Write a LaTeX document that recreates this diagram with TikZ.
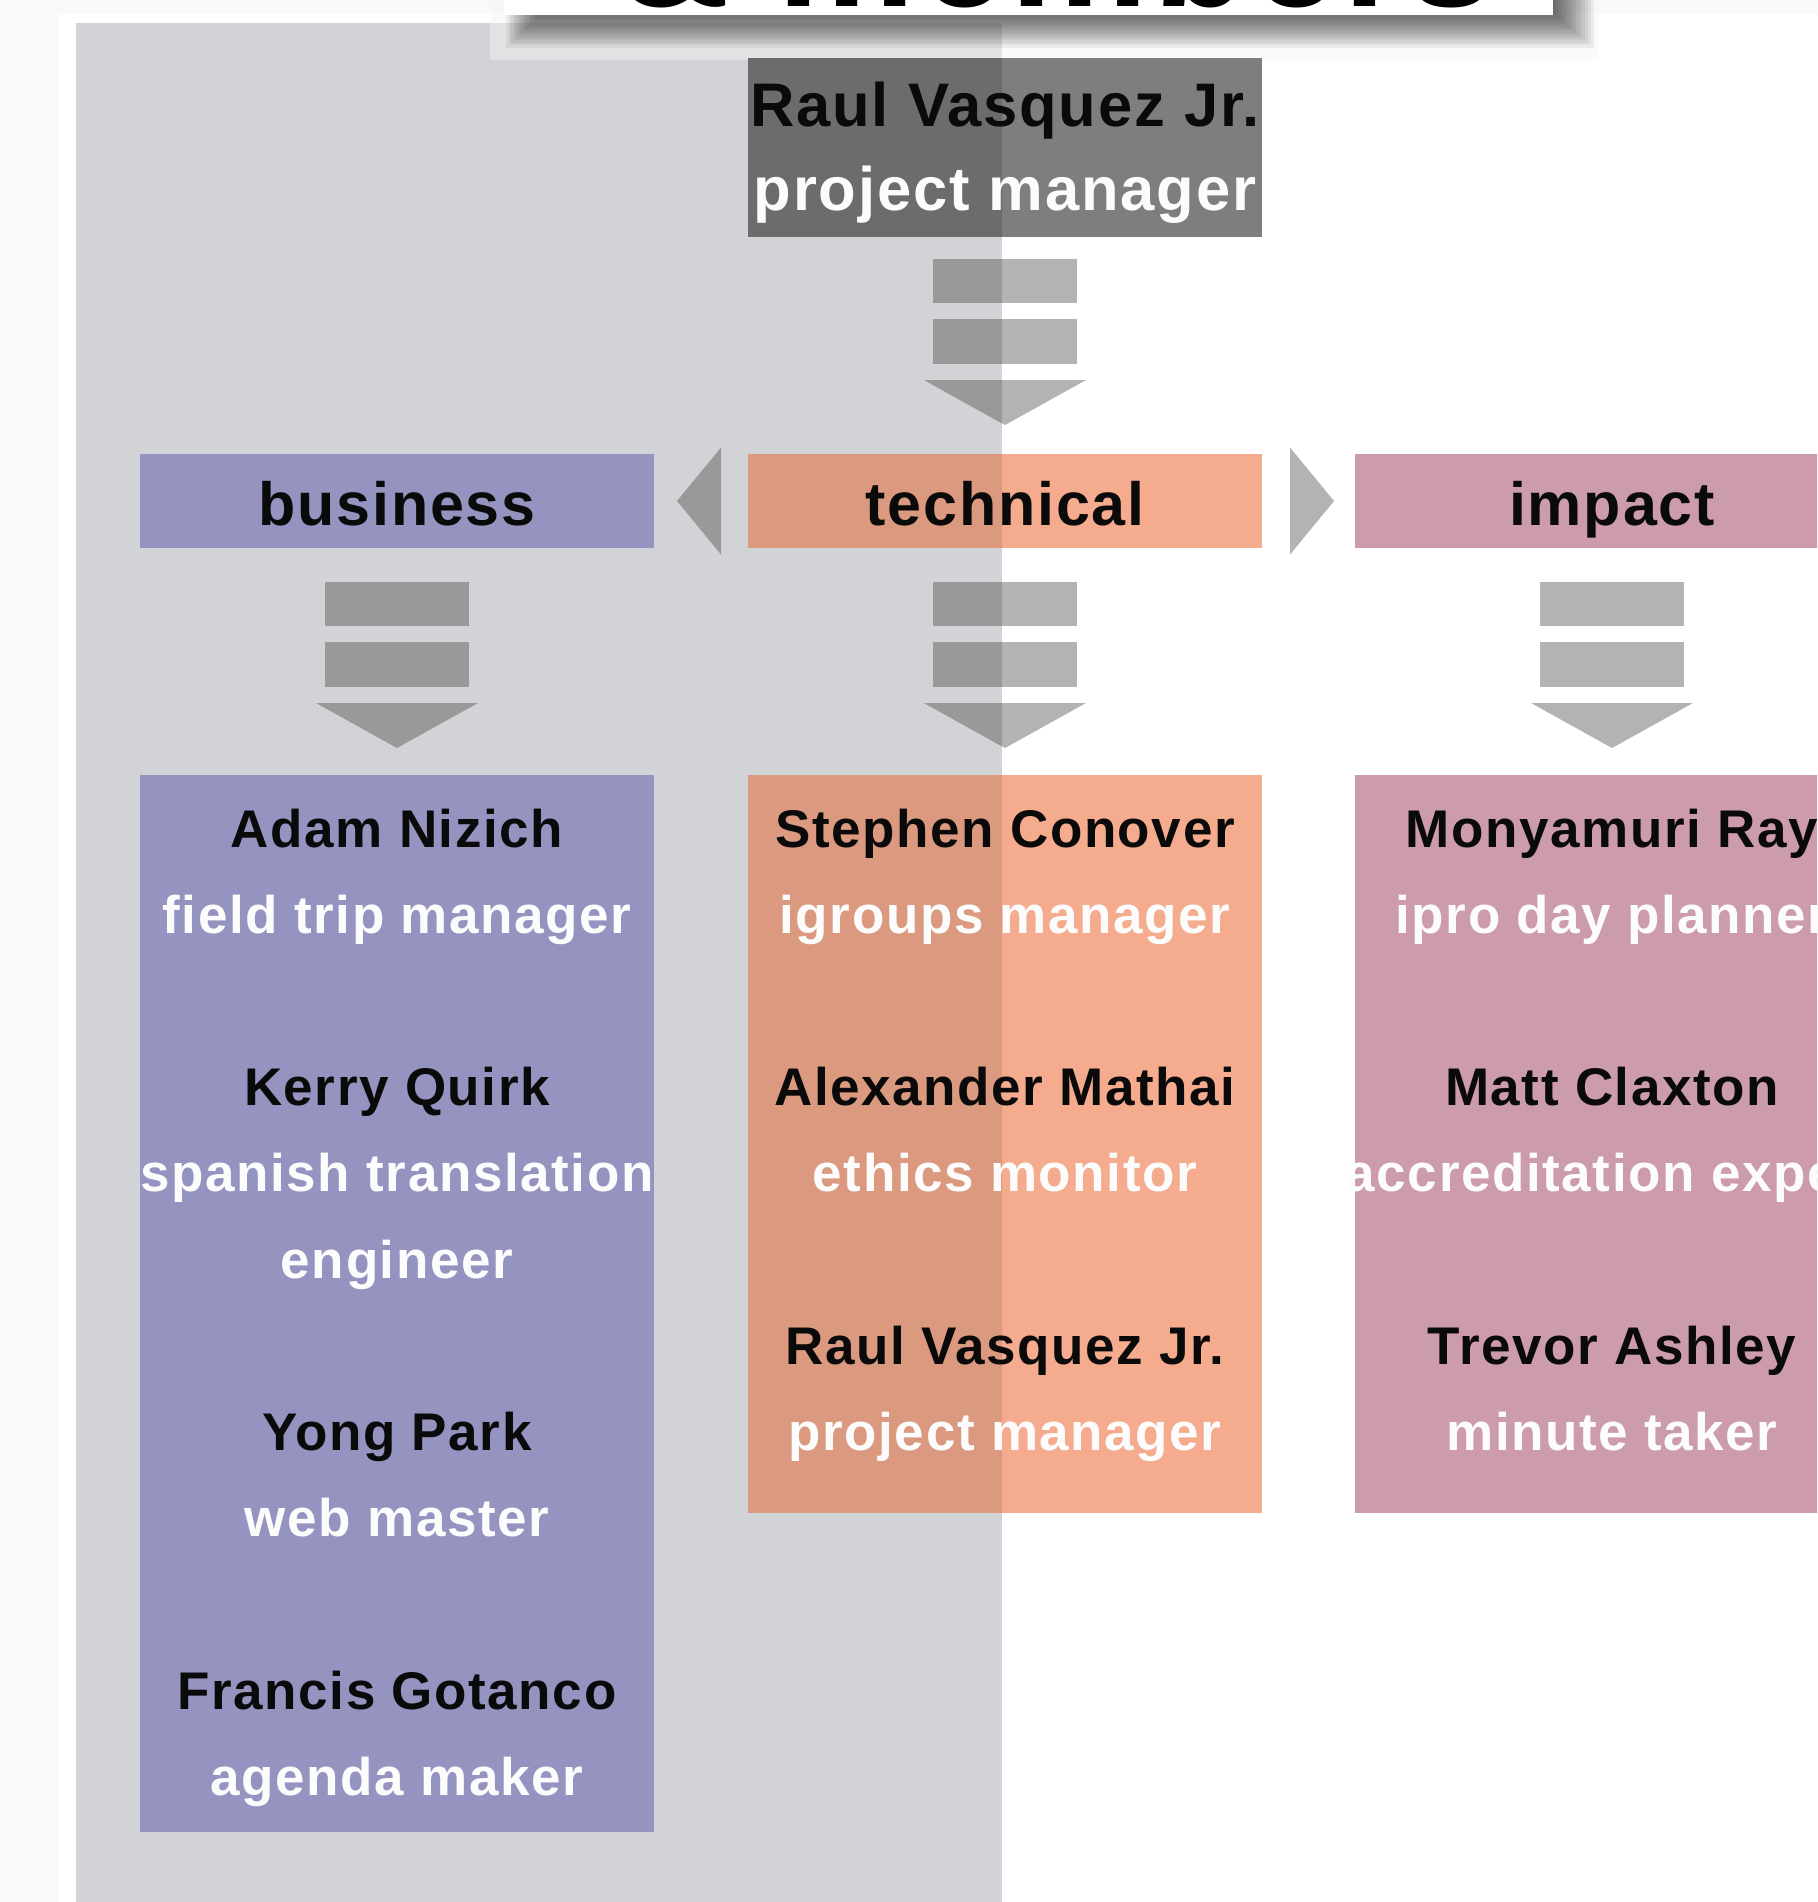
\documentclass[tikz,border=0pt]{standalone}
\usepackage{fontspec}
\setmainfont{Liberation Sans}[LetterSpace=3]
\usetikzlibrary{calc}
\definecolor{bgstrip}{HTML}{F7F9FB}
\definecolor{panel}{HTML}{D1D3D6}
\definecolor{ovlcol}{HTML}{F5F5F5}
\definecolor{toplight}{HTML}{807E7C}
\definecolor{topdark}{HTML}{6D6B6B}
\definecolor{barlight}{HTML}{B3B3B3}
\definecolor{bardark}{HTML}{999999}
\definecolor{techlight}{HTML}{F5AB8E}
\definecolor{techdark}{HTML}{DB9A80}
\definecolor{busfill}{HTML}{9594C1}
\definecolor{impfill}{HTML}{CC9BAC}
\definecolor{namecol}{HTML}{0A0A0A}
\definecolor{rolecol}{HTML}{FCFCFC}
\tikzset{
  box/.style={draw=none, inner sep=0pt, outer sep=0pt, minimum width=514pt},
  headbox/.style={box, minimum height=94pt},
  headtext/.style={font=\bfseries\fontsize{61pt}{61pt}\selectfont, text=namecol, anchor=base, inner sep=0pt},
  toptext/.style={font=\bfseries\fontsize{61.5pt}{61.5pt}\selectfont, anchor=base, inner sep=0pt},
  nametext/.style={font=\bfseries\fontsize{53pt}{53pt}\selectfont, text=namecol, anchor=base, inner sep=0pt},
  roletext/.style={font=\bfseries\fontsize{53pt}{53pt}\selectfont, text=rolecol, anchor=base, inner sep=0pt},
  blockarrow/.pic={
    \fill[#1] (-72,0) rectangle (72,44);
    \fill[#1] (-72,60) rectangle (72,105);
    \fill[#1] (-81,121) -- (81,121) -- (0,166) -- cycle;
  }
}
\begin{document}
\begin{tikzpicture}[x=1pt,y=-1pt]
\useasboundingbox (0,0) rectangle (1817,1902);
\clip (0,0) rectangle (1817,1902);
% page background
\fill[white] (0,0) rectangle (1817,1902);
\fill[bgstrip] (0,0) rectangle (59,1902);
\fill[bgstrip] (0,0) rectangle (1817,14);
% grey panel
\fill[panel] (76,23) rectangle (1002,1902);
% title area overlay and shadow
\fill[ovlcol, fill opacity=0.45] (490,0) rectangle (1599,60);
\foreach \k in {0,...,13}
  \fill[black, fill opacity=0.055] (506+2.5*\k,0) rectangle (1594-3*\k,48-2.5*\k);
\node[box, fill=white, minimum width=1049pt, minimum height=15pt, anchor=north west] (titlebox) at (504,0) {};
\begin{scope}
  \clip (titlebox.north west) rectangle (titlebox.south east);
  \node[font=\bfseries\fontsize{155pt}{155pt}\selectfont, text=black, anchor=base west, inner sep=0pt] (title) at (618,7) {\& members};
\end{scope}

% boxes (light colours)
\node[box, fill=toplight, minimum height=179pt] (top) at (1005,147.5) {};
\node[headbox, fill=busfill] (bushead) at (397,501) {};
\node[headbox, fill=techlight] (techhead) at (1005,501) {};
\node[headbox, fill=impfill] (imphead) at (1612,501) {};
\node[box, fill=busfill, minimum height=1057pt, anchor=north] (busbox) at (397,775) {};
\node[box, fill=techlight, minimum height=738pt, anchor=north] (techbox) at (1005,775) {};
\node[box, fill=impfill, minimum height=738pt, anchor=north] (impbox) at (1612,775) {};

% block arrows
\pic at ($(top.south)+(0,22)$) {blockarrow=barlight};
\pic at ($(bushead.south)+(0,34)$) {blockarrow=bardark};
\pic at ($(techhead.south)+(0,34)$) {blockarrow=barlight};
\pic at ($(imphead.south)+(0,34)$) {blockarrow=barlight};
\fill[bardark] ($(techhead.west)+(-71,0)$) -- ($(techhead.west)+(-27,-53.5)$) -- ($(techhead.west)+(-27,53.5)$) -- cycle;
\fill[barlight] ($(techhead.east)+(72,0)$) -- ($(techhead.east)+(28,-53.5)$) -- ($(techhead.east)+(28,53.5)$) -- cycle;

% darker parts under the grey panel
\begin{scope}
  \clip (76,23) rectangle (1002,1902);
  \fill[topdark] (top.north west) rectangle (top.south east);
  \fill[techdark] (techhead.north west) rectangle (techhead.south east);
  \fill[techdark] (techbox.north west) rectangle (techbox.south east);
  \pic at ($(top.south)+(0,22)$) {blockarrow=bardark};
  \pic at ($(techhead.south)+(0,34)$) {blockarrow=bardark};
\end{scope}

% texts
\node[toptext, text=namecol] (topname) at (1005,127) {Raul Vasquez Jr.};
\node[toptext, text=rolecol] (toprole) at (1005,211) {project manager};
\node[headtext] (bustitle) at (397,525) {business};
\node[headtext] (techtitle) at (1005,525) {technical};
\node[headtext] (imptitle) at (1612,525) {impact};

\node[nametext] (b1) at (397,847) {Adam Nizich};
\node[roletext] (b2) at (397,933.2) {field trip manager};
\node[nametext] (b3) at (397,1105.6) {Kerry Quirk};
\node[roletext] (b4) at (397,1191.8) {spanish translation};
\node[roletext] (b5) at (397,1278) {engineer};
\node[nametext] (b6) at (397,1450.4) {Yong Park};
\node[roletext] (b7) at (397,1536.6) {web master};
\node[nametext] (b8) at (397,1709) {Francis Gotanco};
\node[roletext] (b9) at (397,1795.2) {agenda maker};

\node[nametext] (t1) at (1005,847) {Stephen Conover};
\node[roletext] (t2) at (1005,933.2) {igroups manager};
\node[nametext] (t3) at (1005,1105.6) {Alexander Mathai};
\node[roletext] (t4) at (1005,1191.8) {ethics monitor};
\node[nametext] (t5) at (1005,1364.2) {Raul Vasquez Jr.};
\node[roletext] (t6) at (1005,1450.4) {project manager};

\node[nametext] (i1) at (1612,847) {Monyamuri Ray};
\node[roletext] (i2) at (1612,933.2) {ipro day planner};
\node[nametext] (i3) at (1612,1105.6) {Matt Claxton};
\node[roletext] (i4) at (1612,1191.8) {accreditation expert};
\node[nametext] (i5) at (1612,1364.2) {Trevor Ashley};
\node[roletext] (i6) at (1612,1450.4) {minute taker};
\end{tikzpicture}
\end{document}
